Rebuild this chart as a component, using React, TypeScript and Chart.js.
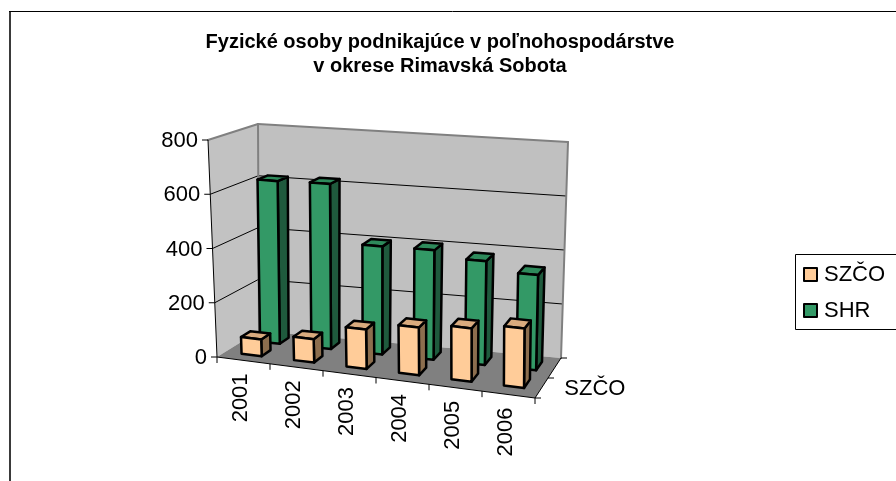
import React, { useEffect, useRef } from 'react';
import { Chart, registerables } from 'chart.js';

Chart.register(...registerables);

// ---- data ----
const years = ['2001', '2002', '2003', '2004', '2005', '2006'];
const szcoValues = [62, 86, 144, 173, 192, 213];
const shrValues = [615, 620, 402, 405, 382, 348];
const seriesNames = ['SZČO', 'SHR'];
const yMin = 0;
const yMax = 800;
const yStep = 200;
const titleLines = ['Fyzické osoby podnikajúce v poľnohospodárstve', 'v okrese Rimavská Sobota'];
const depthAxisLabel = 'SZČO';

// ---- styles ----
const FONT = '"Liberation Sans", Arial, sans-serif';
const W_PX = 896;
const H_PX = 481;
// projected corners of the 3D box (front plane = chart area)
const FRONT = { bl: [217, 357], tl: [208, 140], br: [535, 398], tr: [536, 172] };
const BACK = { bl: [259, 331], tl: [258, 124], br: [561, 358], tr: [568, 142] };
const SERIES_STYLE = [
  { front: '#FFCC99', top: '#D9AB7E', side: '#8C6E4E', depth: [0.2, 0.42] },
  { front: '#339966', top: '#2E8A5B', side: '#1F5A3D', depth: [0.65, 0.87] },
];

type Pt = [number, number];
function lerp(a: number, b: number, t: number) {
  return a + (b - a) * t;
}
function facePt(f: any, u: number, v: number): Pt {
  const bx = lerp(f.bl[0], f.br[0], u), by = lerp(f.bl[1], f.br[1], u);
  const tx = lerp(f.tl[0], f.tr[0], u), ty = lerp(f.tl[1], f.tr[1], u);
  return [lerp(bx, tx, v), lerp(by, ty, v)];
}
function P(u: number, v: number, w: number): Pt {
  const a = facePt(FRONT, u, v);
  const b = facePt(BACK, u, v);
  return [lerp(a[0], b[0], w), lerp(a[1], b[1], w)];
}
function poly(ctx: CanvasRenderingContext2D, pts: Pt[], fill?: string, stroke?: string, lw = 1) {
  ctx.beginPath();
  ctx.moveTo(pts[0][0], pts[0][1]);
  for (let i = 1; i < pts.length; i++) ctx.lineTo(pts[i][0], pts[i][1]);
  ctx.closePath();
  if (fill) {
    ctx.fillStyle = fill;
    ctx.fill();
  }
  if (stroke) {
    ctx.strokeStyle = stroke;
    ctx.lineWidth = lw;
    ctx.lineJoin = 'round';
    ctx.stroke();
  }
}
function line(ctx: CanvasRenderingContext2D, a: Pt, b: Pt, color: string, lw = 1) {
  ctx.beginPath();
  ctx.moveTo(a[0], a[1]);
  ctx.lineTo(b[0], b[1]);
  ctx.strokeStyle = color;
  ctx.lineWidth = lw;
  ctx.stroke();
}

const scene3d = {
  id: 'scene3d',
  beforeDatasetsDraw(chart: any) {
    const ctx: CanvasRenderingContext2D = chart.ctx;
    const area = chart.chartArea;
    const xs = chart.scales.x;
    const ys = chart.scales.y;
    const toU = (px: number) => (px - area.left) / (area.right - area.left);
    const toV = (py: number) => (area.bottom - py) / (area.bottom - area.top);

    ctx.save();
    // background + frame
    ctx.fillStyle = '#ffffff';
    ctx.fillRect(0, 0, W_PX, H_PX);
    ctx.fillStyle = '#3a3a3a';
    ctx.fillRect(9, 11, 2, H_PX - 11);
    line(ctx, [9, 11.5], [W_PX, 11.5], '#000000', 1);

    // title
    ctx.fillStyle = '#000000';
    ctx.font = `bold 20px ${FONT}`;
    ctx.textAlign = 'center';
    ctx.textBaseline = 'middle';
    titleLines.forEach((t, i) => ctx.fillText(t, 440, 42 + i * 24));

    // walls and floor
    const c = (u: number, v: number, w: number) => P(u, v, w);
    poly(ctx, [c(0, 0, 0), c(0, 1, 0), c(0, 1, 1), c(0, 0, 1)], '#C2C2C2');
    poly(ctx, [c(0, 0, 1), c(0, 1, 1), c(1, 1, 1), c(1, 0, 1)], '#C0C0C0');

    // gridlines
    const ticks = ys.ticks.map((t: any) => t.value);
    ticks.forEach((val: number) => {
      const v = toV(ys.getPixelForValue(val));
      if (val === yMin || val === yMax) return;
      ctx.beginPath();
      const a = c(0, v, 0), b = c(0, v, 1), d = c(1, v, 1);
      ctx.moveTo(a[0], a[1]);
      ctx.lineTo(b[0], b[1]);
      ctx.lineTo(d[0], d[1]);
      ctx.strokeStyle = '#000000';
      ctx.lineWidth = 1;
      ctx.stroke();
    });

    // wall edges
    ctx.lineCap = 'round';
    line(ctx, c(0, 1, 0), c(0, 1, 1), '#808080', 2);
    line(ctx, c(0, 1, 1), c(1, 1, 1), '#808080', 2);
    line(ctx, c(1, 1, 1), c(1, 0, 1), '#808080', 2);
    line(ctx, c(0, 1, 1), c(0, 0, 1), '#808080', 2);
    ctx.lineCap = 'butt';

    // floor
    poly(ctx, [c(0, 0, 0), c(0, 0, 1), c(1, 0, 1), c(1, 0, 0)], '#808080');

    // axes lines
    line(ctx, c(0, 0, 0), c(0, 1, 0), '#000000', 1);
    line(ctx, c(0, 0, 0), c(1, 0, 0), '#000000', 1);
    line(ctx, c(1, 0, 0), c(1, 0, 1), '#000000', 1);

    // y ticks + labels
    ctx.font = `22px ${FONT}`;
    ctx.fillStyle = '#000000';
    ctx.textAlign = 'right';
    ctx.textBaseline = 'middle';
    ticks.forEach((val: number) => {
      const v = toV(ys.getPixelForValue(val));
      const p = c(0, v, 0);
      line(ctx, [p[0] - 6, p[1]], p, '#000000', 1);
      ctx.fillText(String(val), p[0] - 10, p[1] + 1);
    });

    // x ticks (category boundaries)
    const n = chart.data.labels.length;
    const centers: number[] = [];
    for (let i = 0; i < n; i++) centers.push(toU(xs.getPixelForValue(i)));
    const bounds: number[] = [0];
    for (let i = 0; i < n - 1; i++) bounds.push((centers[i] + centers[i + 1]) / 2);
    bounds.push(1);
    bounds.forEach((u) => {
      const p = c(u, 0, 0);
      line(ctx, p, [p[0], p[1] + 6], '#000000', 1);
    });
    // x labels (rotated)
    chart.data.labels.forEach((lab: string, i: number) => {
      const p = c(centers[i], 0, 0);
      ctx.save();
      ctx.translate(p[0] - 3, p[1] + 13);
      ctx.rotate(-Math.PI / 2);
      ctx.textAlign = 'right';
      ctx.textBaseline = 'middle';
      ctx.fillText(lab, 0, 0);
      ctx.restore();
    });

    // depth axis ticks + label
    [0, 0.5, 1].forEach((w) => {
      const p = c(1, 0, w);
      line(ctx, p, [p[0] + 6, p[1]], '#000000', 1);
    });
    ctx.textAlign = 'left';
    ctx.textBaseline = 'middle';
    const dl = c(1, 0, 0.28);
    ctx.fillText(depthAxisLabel, dl[0] + 22, dl[1] + 2);

    // bars: back row first
    for (let d = chart.data.datasets.length - 1; d >= 0; d--) {
      const meta = chart.getDatasetMeta(d);
      const st = SERIES_STYLE[d];
      const [w0, w1] = st.depth;
      meta.data.forEach((el: any) => {
        const pr = el.getProps(['x', 'y', 'base', 'width'], true);
        const u0 = toU(pr.x - pr.width / 2);
        const u1 = toU(pr.x + pr.width / 2);
        const v0 = toV(pr.base);
        const v1 = toV(pr.y);
        const lw = 2.5;
        poly(ctx, [c(u1, v0, w0), c(u1, v0, w1), c(u1, v1, w1), c(u1, v1, w0)], st.side, '#000000', lw);
        poly(ctx, [c(u0, v1, w0), c(u1, v1, w0), c(u1, v1, w1), c(u0, v1, w1)], st.top, '#000000', lw);
        poly(ctx, [c(u0, v0, w0), c(u1, v0, w0), c(u1, v1, w0), c(u0, v1, w0)], st.front, '#000000', lw);
      });
    }

    // legend
    ctx.strokeStyle = '#000000';
    ctx.lineWidth = 1;
    ctx.strokeRect(795.5, 254.5, 120, 75);
    ctx.font = `22px ${FONT}`;
    ctx.textAlign = 'left';
    ctx.textBaseline = 'middle';
    chart.data.datasets.forEach((ds: any, i: number) => {
      const y = 268 + i * 36;
      ctx.fillStyle = ds.backgroundColor;
      ctx.fillRect(804, y, 13, 13);
      ctx.strokeStyle = '#000000';
      ctx.lineWidth = 2;
      ctx.strokeRect(804, y, 13, 13);
      ctx.fillStyle = '#000000';
      ctx.fillText(ds.label, 824, y + 7);
    });

    ctx.restore();
    return false;
  },
};

export default function App() {
  const ref = useRef<HTMLCanvasElement>(null);
  useEffect(() => {
    if (!ref.current) return;
    const chart = new Chart(ref.current, {
      type: 'bar',
      data: {
        labels: years,
        datasets: [
          { label: seriesNames[0], data: szcoValues, backgroundColor: SERIES_STYLE[0].front, grouped: false, categoryPercentage: 0.8, barPercentage: 0.48 } as any,
          { label: seriesNames[1], data: shrValues, backgroundColor: SERIES_STYLE[1].front, grouped: false, categoryPercentage: 0.8, barPercentage: 0.48 } as any,
        ],
      },
      options: {
        responsive: false,
        animation: false,
        devicePixelRatio: 1,
        layout: {
          padding: {
            left: FRONT.bl[0],
            top: FRONT.tl[1],
            right: W_PX - FRONT.br[0],
            bottom: H_PX - FRONT.bl[1],
          },
        },
        scales: {
          x: { display: false, offset: true },
          y: { display: false, min: yMin, max: yMax, ticks: { stepSize: yStep } },
        },
        plugins: {
          legend: { display: false },
          title: { display: false },
          tooltip: { enabled: false },
        },
      },
      plugins: [scene3d],
    });
    return () => chart.destroy();
  }, []);
  return (
    <div style={{ position: 'fixed', left: 0, top: 0, width: W_PX, height: H_PX, background: '#fff' }}>
      <canvas ref={ref} width={W_PX} height={H_PX} style={{ display: 'block' }} />
    </div>
  );
}
